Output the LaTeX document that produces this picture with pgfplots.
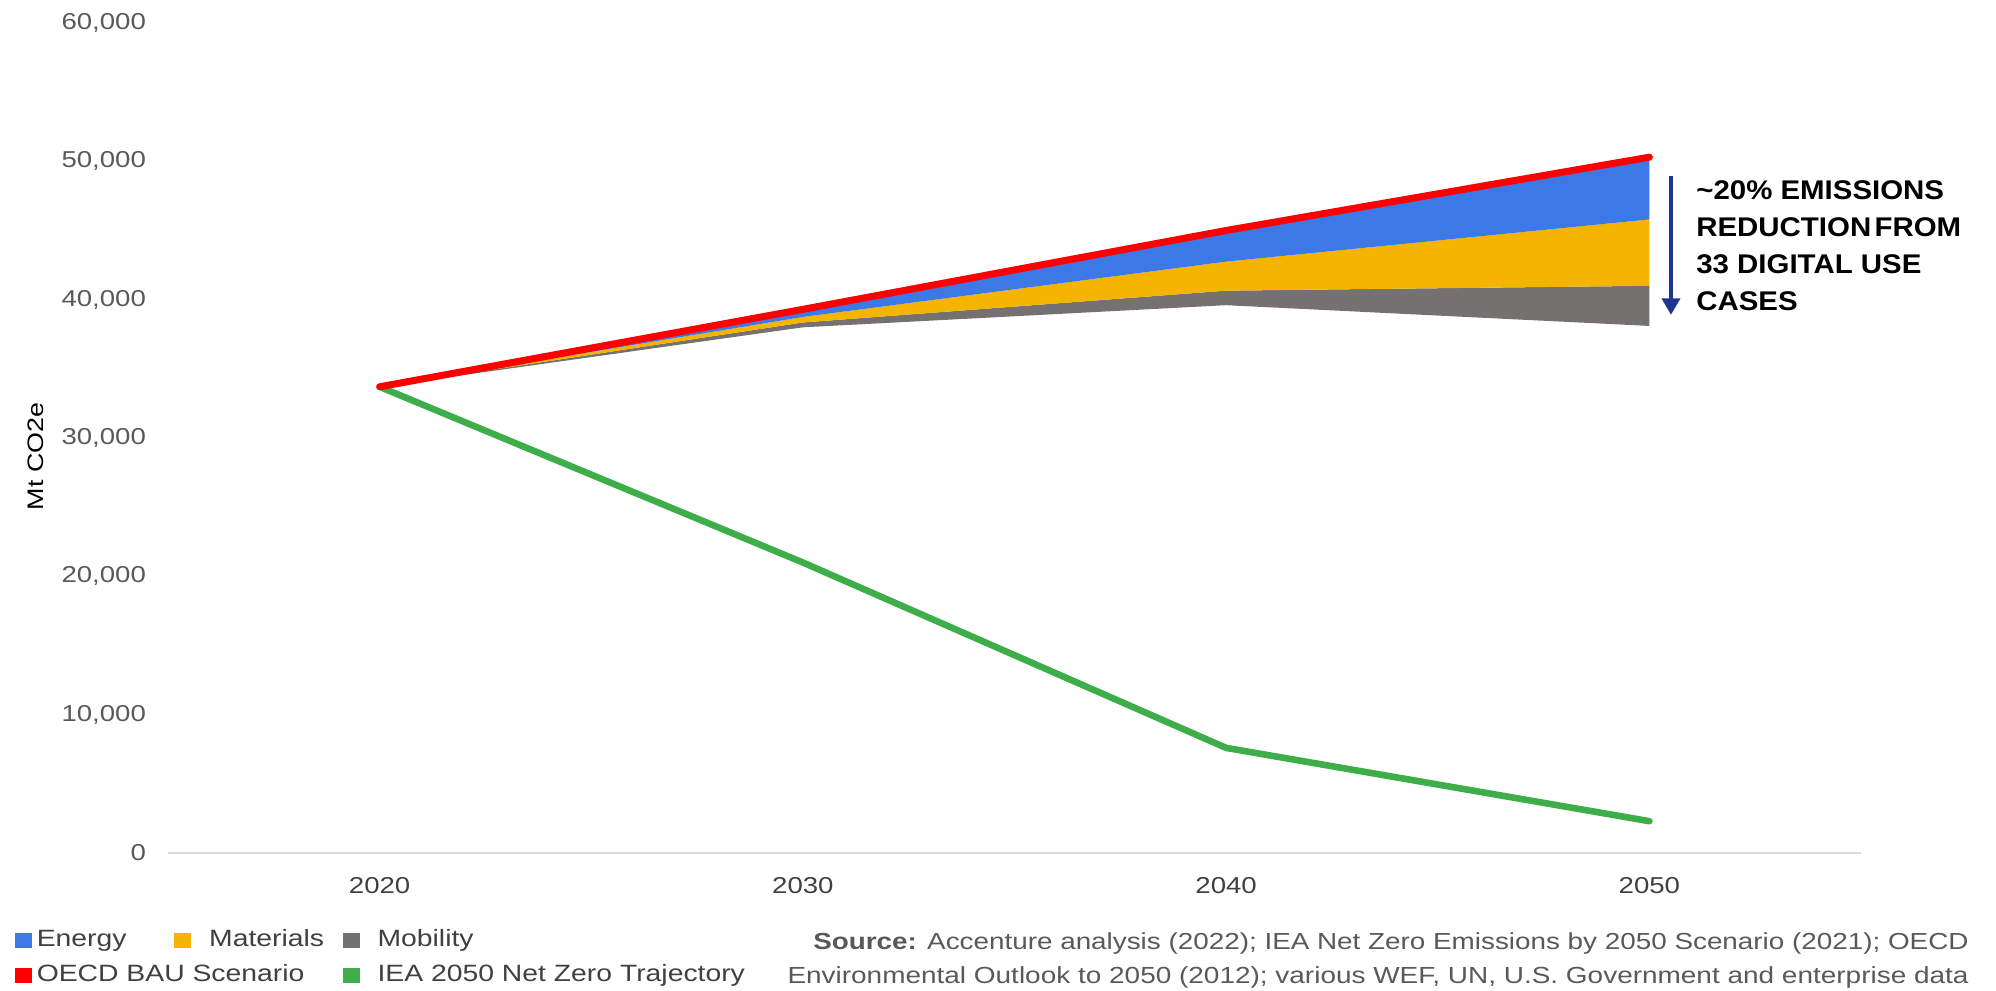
\documentclass[border=0pt]{standalone}
\usepackage{fontspec}
\setmainfont{Liberation Sans}[FakeStretch=1.2]
\newfontfamily\annfont{Liberation Sans}[FakeStretch=1.09]
\usepackage{pgfplots}
\pgfplotsset{compat=1.18}
\usepgfplotslibrary{fillbetween}
\usetikzlibrary{arrows.meta}
\definecolor{enblue}{HTML}{3C78E6}
\definecolor{matyellow}{HTML}{F4B400}
\definecolor{mobgray}{HTML}{767171}
\definecolor{baured}{HTML}{FF0000}
\definecolor{ieagreen}{HTML}{3DAE49}
\definecolor{arrownavy}{HTML}{1F3590}
\definecolor{axgray}{HTML}{D9D9D9}
\definecolor{tickgray}{HTML}{595959}
\definecolor{legtext}{HTML}{404040}
\pgfplotsset{
  legsq/.style={legend image code/.code={\fill[#1, draw=none] (0pt,-3.9pt) rectangle (8.5pt,3.9pt); \path (10.5pt,0pt);}},
}
\begin{document}
\begin{tikzpicture}
\begin{axis}[
  at={(84pt,68.5pt)}, anchor=south west,
  scale only axis, width=846.5pt, height=415pt,
  xmin=2015, xmax=2055, ymin=0, ymax=60000,
  clip=false,
  axis lines*=left,
  axis line style={-},
  y axis line style={draw=none},
  x axis line style={draw=axgray, line width=1pt},
  major tick length=0pt,
  xtick={2020,2030,2040,2050},
  ytick={0,10000,20000,30000,40000,50000,60000},
  scaled y ticks=false,
  xticklabel style={font=\fontsize{11.5}{13}\selectfont, text=legtext, yshift=-8.5pt,
    /pgf/number format/.cd, 1000 sep={}, assume math mode=true},
  yticklabel style={font=\fontsize{11.5}{13}\selectfont, text=tickgray, xshift=-7.5pt,
    /pgf/number format/.cd, fixed, 1000 sep={,}, assume math mode=true},
  ylabel={Mt CO2e},
  every axis y label/.style={at={(axis description cs:-0.078,0.478)}, rotate=90, anchor=center, font=\fontsize{11.2}{13}\selectfont, text=black},
  legend columns=3,
  legend cell align=left,
  legend style={at={(axis description cs:-0.09037,-0.09157)}, anchor=north west,
    draw=none, fill=none, inner sep=0pt, column sep=0pt, row sep=6.5pt,
    font=\fontsize{11.8}{13}\selectfont, text=legtext,
    nodes={inner sep=0pt, text height=8.5pt, text depth=2.5pt}},
]
% boundaries of the stacked reductions
\addplot[name path=base, draw=none, forget plot] coordinates {(2020,33700) (2030,38000) (2040,39600) (2050,38100)};
\addplot[name path=mob, draw=none, forget plot] coordinates {(2020,33700) (2030,38350) (2040,40650) (2050,41000)};
\addplot[name path=mat, draw=none, forget plot] coordinates {(2020,33700) (2030,38750) (2040,42750) (2050,45800)};
\addplot[name path=bau, draw=none, forget plot] coordinates {(2020,33700) (2030,39300) (2040,45000) (2050,50300)};
\addplot[fill=mobgray, draw=none, forget plot] fill between[of=base and mob];
\addplot[fill=matyellow, draw=none, forget plot] fill between[of=mob and mat];
\addplot[fill=enblue, draw=none, forget plot] fill between[of=mat and bau];
% IEA net zero trajectory
\addplot[ieagreen, line width=3.3pt, line join=round, line cap=round, forget plot] coordinates {(2020,33700) (2030,21000) (2040,7600) (2050,2300)};
% OECD BAU
\addplot[baured, line width=3.5pt, line join=round, line cap=round, forget plot] coordinates {(2020,33700) (2030,39300) (2040,45000) (2050,50300)};
% legend
\addlegendimage{legsq=enblue}
\addlegendentry{\makebox[68.5pt][l]{Energy}}
\addlegendimage{legsq=matyellow}
\addlegendentry{\makebox[74pt][l]{\hspace*{7pt}Materials}}
\addlegendimage{legsq=mobgray}
\addlegendentry{\hspace*{6.5pt}Mobility}
\addlegendimage{legsq=baured}
\addlegendentry{\makebox[68.5pt][l]{OECD BAU Scenario}}
\addlegendimage{empty legend}
\addlegendentry{}
\addlegendimage{legsq=ieagreen}
\addlegendentry{\hspace*{6.5pt}IEA 2050 Net Zero Trajectory}
% annotation
\draw[arrownavy, line width=2pt, -{Triangle[width=9pt, length=8.3pt]}] (axis cs:2050.51,48950) -- (axis cs:2050.51,38900);
\node[anchor=north west, align=left, inner sep=0pt, font=\annfont\fontsize{13.5}{18.6}\selectfont\bfseries]
  at (axis cs:2051.1,48650) {\textasciitilde20\% EMISSIONS\\REDUCTION\hspace{0.12em}FROM\\33 DIGITAL USE\\CASES};
\end{axis}
\node[anchor=base east, inner sep=0pt, text=tickgray, font=\fontsize{11.6}{13}\selectfont] at (984.5pt,20.3pt)
  {\textbf{Source:} Accenture analysis (2022); IEA Net Zero Emissions by 2050 Scenario (2021); OECD};
\node[anchor=base east, inner sep=0pt, text=tickgray, font=\fontsize{11.65}{13}\selectfont] at (984.5pt,3.3pt)
  {Environmental Outlook to 2050 (2012); various WEF, UN, U.S. Government and enterprise data};
\pgfresetboundingbox
\useasboundingbox (0,0) rectangle (998pt,495pt);
\end{tikzpicture}
\end{document}
